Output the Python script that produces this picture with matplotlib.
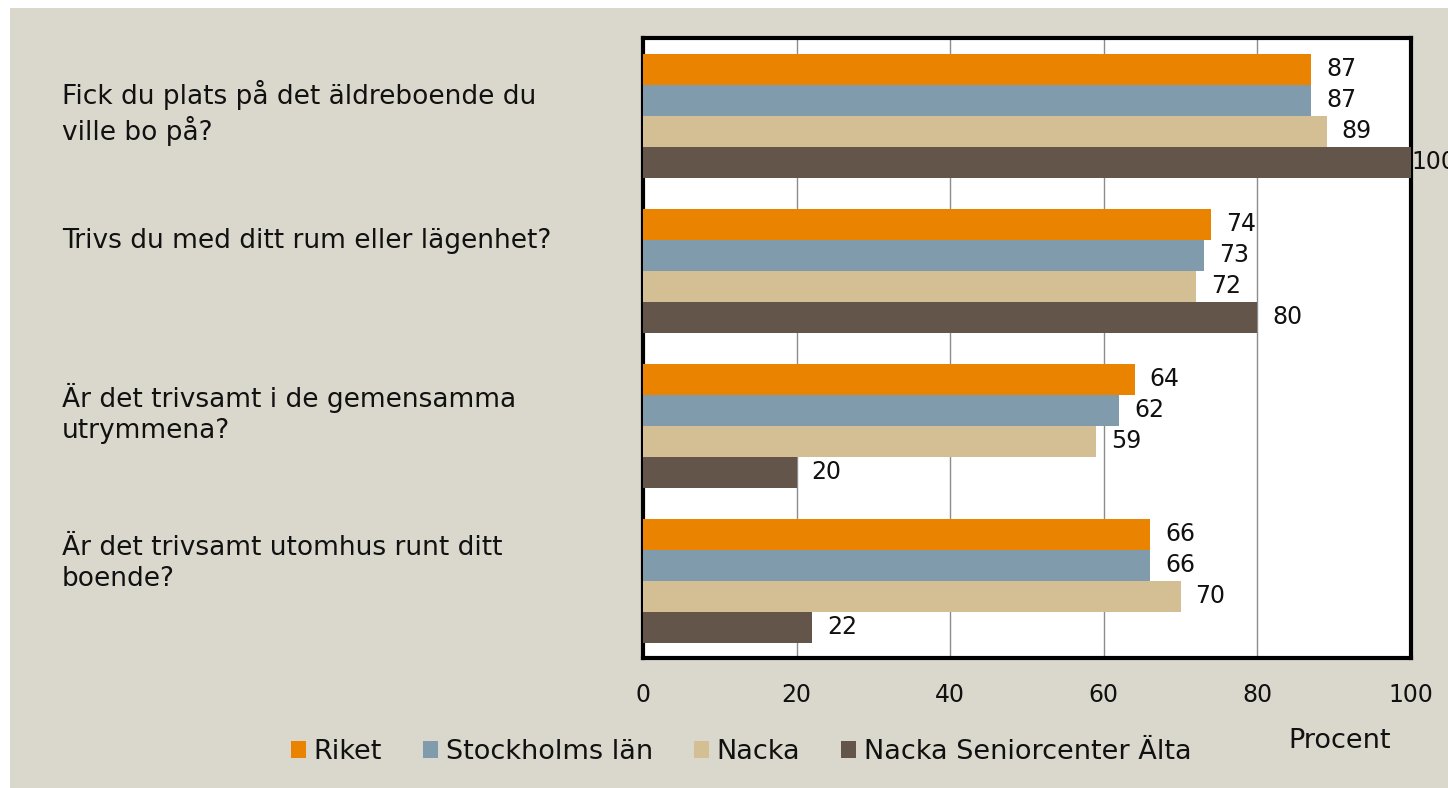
import numpy as np
import matplotlib
matplotlib.use('Agg')
import matplotlib.pyplot as plt
import matplotlib.transforms as mtransforms
from matplotlib.patches import Rectangle

questions = ['Fick du plats på det äldreboende du\nville bo på?',
             'Trivs du med ditt rum eller lägenhet?',
             'Är det trivsamt i de gemensamma\nutrymmena?',
             'Är det trivsamt utomhus runt ditt\nboende?']
series = ['Riket', 'Stockholms län', 'Nacka', 'Nacka Seniorcenter Älta']
riket = [87, 74, 64, 66]
stockholm = [87, 73, 62, 66]
nacka = [89, 72, 59, 70]
alta = [100, 80, 20, 22]
xticks = [0, 20, 40, 60, 80, 100]

colors = ['#E98300', '#7F9BAC', '#D4BF95', '#63554A']
bg = '#DAD8CC'

plt.rcParams['font.family'] = ['DejaVu Sans']
fig = plt.figure(figsize=(14.48, 7.88), dpi=100)
fig.patch.set_facecolor('white')
fig.patches.append(Rectangle((10 / 1448, 0), 1, 1 - 8 / 788, transform=fig.transFigure,
                             facecolor=bg, edgecolor='none', zorder=-10))

ax = fig.add_axes([643 / 1448, 1 - 658 / 788, 768 / 1448, 620 / 788])
ax.set_facecolor('white')

values = [riket, stockholm, nacka, alta]
h = 0.2
pos = np.arange(len(questions))
for k, (name, vals) in enumerate(zip(series, values)):
    y = pos + 0.1 + h / 2 + k * h
    ax.barh(y, vals, height=h, color=colors[k], label=name, zorder=3)
    for yy, v in zip(y, vals):
        # the 100 label sits on the frame and runs off the edge, as in the original
        off = 0 if v >= 100 else 15
        ax.annotate(str(v), (v, yy), xytext=(off * 0.72, 0), textcoords='offset points',
                    va='center', ha='left', fontsize=17, color='#111111',
                    annotation_clip=False, zorder=5)

ax.set_xlim(0, 100)
ax.set_ylim(len(questions), 0)
ax.set_xticks(xticks)
ax.set_yticks([])
ax.tick_params(axis='x', length=0, labelsize=17, pad=18, labelcolor='#111111')
ax.grid(axis='x', color='#8C8C8C', linewidth=1, zorder=1)
for s in ax.spines.values():
    s.set_linewidth(3)
    s.set_color('black')

trans = mtransforms.blended_transform_factory(fig.transFigure, ax.transData)
label_y = [0.484, 1.31, 2.42, 3.39]
for q, yy in zip(questions, label_y):
    ax.text(62 / 1448, yy, q, transform=trans, ha='left', va='center',
            fontsize=19, linespacing=1.25, color='#111111')

fig.text(1340 / 1448, 1 - 741 / 788, 'Procent', ha='center', va='center',
         fontsize=19.5, color='#111111')

handles, labels = ax.get_legend_handles_labels()
fig.legend(handles, labels, loc='center left', bbox_to_anchor=(280 / 1448, 1 - 752 / 788),
           ncol=4, frameon=False, fontsize=19.5, handlelength=0.55, handleheight=0.55,
           handletextpad=0.3, columnspacing=1.5, borderaxespad=0, labelcolor='#111111')

fig.savefig('out.png', dpi=100, facecolor=fig.get_facecolor())
